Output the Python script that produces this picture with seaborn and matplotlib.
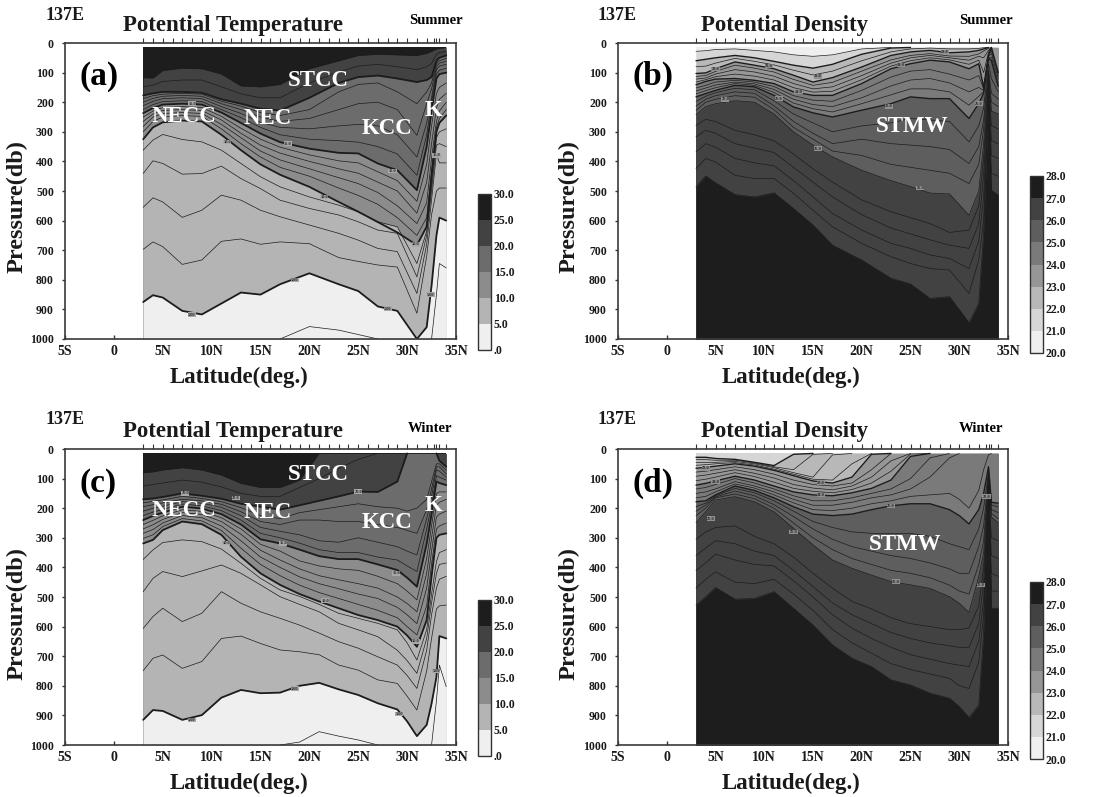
#!/usr/bin/env python
# -*- coding: utf-8 -*-
"""137E sections: potential temperature / potential density, summer and winter."""

import matplotlib
matplotlib.use("Agg")

import numpy as np
import seaborn as sns
import matplotlib.pyplot as plt
from matplotlib.colors import ListedColormap, BoundaryNorm
from matplotlib.colorbar import ColorbarBase

# ============== isolines: depth (db) of each level at each latitude ==============
LAT_S = [3, 4, 5, 7, 9, 11, 13, 15, 17, 20, 23, 25, 27, 29, 31, 32, 32.5, 33, 33.3, 34]
LAT_W = [3, 4, 5, 7, 9, 11, 13, 15, 17, 19, 21, 23, 25, 27, 29, 30, 31, 32, 32.5, 33, 33.3, 34]
STATIONS = [3, 4, 5, 6, 7, 8, 9, 10, 11, 12, 13, 14, 15, 16, 17, 18, 19, 20, 21, 22, 23, 24,
            25, 26, 27, 28, 29, 30, 31, 32, 32.7, 33, 33.3, 34]

# (a) summer temperature
A_LEVELS = [4, 5, 6, 7, 8, 9, 10, 11, 12, 13, 14, 15, 16, 17, 18, 19, 20, 22.5, 25]
A_DEPTH = [
    [1000, 1000, 1000, 1000, 1000, 1000, 1000, 1000, 1000, 958, 970, 985, 1000, 1000, 1000, 1000, 1000, 850, 745, 760],
    [875, 852, 860, 905, 917, 880, 843, 850, 815, 778, 815, 838, 890, 905, 1000, 960, 820, 650, 590, 600],
    [697, 672, 688, 748, 733, 670, 662, 680, 672, 678, 725, 738, 750, 757, 913, 720, 580, 500, 490, 490],
    [555, 523, 537, 589, 565, 514, 531, 565, 587, 615, 643, 666, 694, 705, 846, 680, 530, 375, 405, 405],
    [441, 398, 407, 443, 441, 416, 458, 492, 531, 559, 581, 604, 632, 643, 790, 650, 500, 345, 340, 350],
    [362, 328, 309, 326, 334, 362, 407, 452, 486, 520, 548, 570, 604, 621, 745, 635, 480, 320, 300, 290],
    [325, 285, 268, 262, 265, 310, 362, 410, 445, 486, 537, 570, 605, 640, 683, 620, 450, 300, 270, 245],
    [300, 265, 250, 245, 248, 290, 340, 385, 420, 450, 490, 515, 545, 590, 650, 590, 430, 285, 255, 225],
    [282, 250, 238, 235, 238, 275, 320, 365, 395, 425, 455, 475, 505, 550, 610, 540, 390, 265, 230, 200],
    [265, 240, 228, 225, 228, 260, 305, 345, 372, 400, 425, 440, 470, 500, 575, 470, 340, 220, 190, 170],
    [250, 230, 218, 215, 218, 248, 288, 325, 352, 378, 398, 405, 435, 465, 535, 410, 280, 170, 150, 135],
    [237, 220, 208, 205, 208, 235, 270, 306, 335, 357, 371, 373, 407, 430, 497, 350, 230, 120, 105, 100],
    [225, 208, 198, 195, 198, 225, 252, 285, 310, 325, 330, 335, 350, 375, 447, 310, 200, 105, 92, 85],
    [212, 197, 188, 185, 188, 215, 238, 268, 285, 290, 280, 275, 280, 310, 385, 270, 185, 90, 78, 72],
    [200, 187, 180, 177, 180, 205, 225, 250, 265, 255, 225, 205, 200, 225, 312, 205, 155, 80, 68, 62],
    [188, 178, 173, 170, 173, 197, 213, 235, 245, 225, 165, 140, 135, 165, 205, 165, 135, 70, 60, 52],
    [177, 170, 165, 165, 168, 190, 205, 222, 228, 185, 135, 115, 110, 120, 132, 125, 115, 60, 50, 42],
    [148, 142, 130, 125, 125, 148, 172, 185, 185, 135, 98, 78, 72, 80, 90, 80, 70, 38, 32, 28],
    [117, 118, 93, 85, 87, 105, 145, 148, 140, 87, 60, 42, 38, 40, 42, 35, 28, 20, 18, 15],
]

# (c) winter temperature
C_LEVELS = [4, 5, 6, 7, 8, 9, 10, 11, 12, 13, 14, 15, 16, 17, 18, 19, 20, 22.5, 25]
C_DEPTH = [
    [1000, 1000, 1000, 1000, 1000, 1000, 1000, 1000, 1000, 990, 955, 970, 983, 1000, 1000, 1000, 1000, 1000, 1000, 850, 730, 803],
    [915, 882, 885, 915, 899, 840, 814, 825, 823, 800, 790, 812, 831, 859, 880, 920, 970, 932, 860, 770, 632, 640],
    [749, 707, 696, 741, 718, 640, 632, 657, 679, 685, 695, 730, 747, 780, 792, 835, 882, 750, 640, 540, 530, 527],
    [606, 566, 538, 583, 555, 482, 521, 550, 572, 595, 622, 651, 673, 702, 730, 765, 809, 680, 560, 470, 440, 430],
    [482, 437, 414, 431, 412, 392, 420, 459, 499, 525, 550, 589, 611, 634, 680, 715, 758, 640, 520, 420, 390, 385],
    [373, 341, 316, 307, 313, 338, 386, 437, 476, 498, 525, 555, 572, 589, 611, 655, 713, 610, 490, 380, 350, 340],
    [319, 307, 274, 245, 254, 290, 364, 420, 459, 490, 515, 538, 561, 578, 600, 630, 668, 578, 430, 300, 290, 285],
    [302, 290, 262, 235, 243, 275, 335, 390, 428, 460, 485, 505, 525, 545, 570, 600, 628, 530, 390, 270, 260, 250],
    [285, 272, 250, 225, 232, 260, 310, 365, 400, 432, 455, 472, 490, 505, 535, 560, 590, 470, 345, 230, 220, 210],
    [270, 256, 238, 215, 221, 245, 288, 342, 375, 405, 428, 442, 455, 470, 500, 522, 550, 420, 300, 190, 180, 170],
    [255, 241, 226, 205, 211, 232, 270, 322, 345, 378, 395, 405, 410, 430, 455, 480, 510, 370, 260, 150, 145, 145],
    [240, 226, 215, 195, 201, 220, 255, 305, 319, 340, 362, 372, 372, 390, 409, 435, 465, 320, 220, 110, 115, 122],
    [225, 213, 204, 186, 192, 208, 240, 285, 300, 318, 340, 350, 350, 365, 375, 395, 414, 270, 190, 90, 95, 105],
    [210, 200, 193, 178, 183, 197, 225, 265, 278, 290, 310, 315, 300, 315, 330, 345, 358, 235, 160, 70, 75, 95],
    [195, 188, 182, 170, 175, 187, 212, 245, 255, 240, 240, 245, 245, 255, 265, 275, 285, 205, 135, 60, 60, 84],
    [182, 177, 172, 160, 167, 178, 198, 225, 235, 215, 205, 195, 185, 195, 200, 210, 200, 170, 110, 50, 50, 72],
    [170, 167, 162, 150, 158, 168, 185, 195, 205, 190, 175, 160, 144, 145, 110, 15, 15, 15, 15, 15, 40, 60],
    [125, 120, 115, 105, 112, 128, 150, 160, 160, 130, 100, 65, 35, 15, 15, 15, 15, 15, 15, 15, 15, 15],
    [80, 77, 71, 63, 71, 88, 116, 130, 130, 105, 15, 15, 15, 15, 15, 15, 15, 15, 15, 15, 15, 15],
]

# (b) summer density
B_LEVELS = [21, 22, 22.5, 23, 23.25, 23.5, 23.75, 24, 24.25, 24.5, 24.75, 25, 25.25, 25.5, 25.75, 26, 26.2, 26.4, 26.6, 26.8, 27]
B_DEPTH = [
    [28, 26, 22, 20, 25, 30, 40, 45, 40, 20, 15, 15, 15, 15, 15, 15, 15, 15, 15, 15],
    [60, 55, 50, 42, 50, 62, 75, 85, 72, 38, 17, 15, 15, 15, 15, 15, 15, 15, 15, 15],
    [80, 78, 68, 52, 62, 74, 92, 108, 95, 60, 30, 20, 17, 20, 20, 18, 16, 15, 15, 15],
    [103, 101, 87, 64, 75, 87, 109, 132, 117, 81, 42, 30, 25, 33, 30, 25, 20, 15, 15, 15],
    [113, 110, 96, 75, 85, 98, 123, 143, 133, 95, 57, 42, 36, 44, 45, 37, 27, 18, 15, 15],
    [122, 118, 105, 90, 98, 112, 137, 155, 148, 110, 68, 50, 42, 50, 58, 45, 50, 25, 15, 15],
    [132, 124, 114, 105, 112, 125, 151, 166, 163, 124, 78, 60, 50, 57, 72, 58, 100, 32, 15, 15],
    [141, 130, 122, 120, 126, 137, 165, 177, 177, 137, 87, 70, 58, 64, 87, 70, 150, 40, 15, 100],
    [152, 143, 132, 126, 132, 147, 178, 193, 197, 160, 115, 95, 90, 105, 125, 110, 155, 43, 25, 110],
    [162, 152, 142, 132, 138, 157, 190, 208, 215, 185, 145, 125, 120, 135, 165, 150, 160, 45, 35, 120],
    [172, 161, 151, 137, 143, 167, 203, 222, 233, 205, 175, 155, 155, 165, 210, 180, 165, 48, 48, 135],
    [182, 171, 160, 143, 148, 177, 216, 236, 250, 227, 205, 182, 188, 188, 255, 205, 170, 50, 60, 146],
    [197, 180, 168, 153, 158, 195, 240, 270, 300, 280, 270, 255, 260, 265, 334, 280, 220, 70, 120, 165],
    [213, 190, 178, 165, 170, 212, 265, 305, 340, 325, 340, 345, 350, 360, 407, 350, 260, 90, 170, 190],
    [228, 200, 190, 178, 183, 225, 285, 325, 365, 380, 410, 420, 430, 440, 475, 410, 290, 100, 200, 215],
    [242, 215, 205, 195, 200, 240, 300, 345, 385, 430, 465, 485, 507, 510, 582, 500, 340, 115, 230, 240],
    [278, 258, 265, 295, 310, 330, 375, 425, 470, 530, 570, 590, 610, 640, 632, 550, 390, 130, 280, 290],
    [317, 295, 305, 340, 355, 370, 420, 470, 520, 580, 625, 645, 665, 683, 694, 610, 450, 150, 330, 340],
    [368, 340, 352, 390, 405, 415, 465, 520, 576, 632, 677, 694, 716, 728, 762, 670, 520, 170, 380, 390],
    [424, 390, 402, 447, 458, 458, 508, 565, 621, 677, 722, 745, 762, 767, 846, 733, 600, 190, 440, 450],
    [486, 449, 472, 512, 520, 506, 559, 615, 683, 733, 795, 814, 863, 857, 945, 880, 643, 193, 497, 514],
]

# (d) winter density
D_LEVELS = [22, 22.25, 22.5, 22.75, 23, 23.25, 23.5, 23.75, 24, 24.25, 24.5, 24.75, 25, 25.25, 25.5, 25.75, 26, 26.2, 26.4, 26.6, 26.8, 27]
D_DEPTH = [
    [28, 28, 32, 35, 45, 56, 18, 15, 15, 15, 15, 15, 15, 15, 15, 15, 15, 15, 15, 15, 15, 15],
    [36, 36, 38, 38, 47, 60, 70, 18, 15, 15, 15, 15, 15, 15, 15, 15, 15, 15, 15, 15, 15, 15],
    [45, 45, 45, 42, 50, 63, 80, 95, 20, 15, 15, 15, 15, 15, 15, 15, 15, 15, 15, 15, 15, 15],
    [55, 53, 50, 46, 54, 68, 85, 102, 105, 50, 15, 15, 15, 15, 15, 15, 15, 15, 15, 15, 15, 15],
    [65, 62, 58, 50, 58, 72, 90, 108, 115, 95, 18, 15, 15, 15, 15, 15, 15, 15, 15, 15, 15, 15],
    [78, 75, 70, 60, 70, 85, 105, 120, 125, 115, 70, 15, 15, 15, 15, 15, 15, 15, 15, 15, 15, 15],
    [92, 88, 82, 70, 82, 98, 120, 132, 138, 125, 95, 40, 15, 15, 15, 15, 15, 15, 15, 15, 15, 15],
    [107, 102, 95, 80, 93, 112, 133, 143, 148, 137, 115, 75, 17, 15, 15, 15, 15, 15, 15, 15, 15, 15],
    [122, 116, 108, 92, 105, 125, 145, 155, 158, 148, 133, 105, 25, 15, 15, 15, 15, 15, 15, 15, 15, 15],
    [135, 130, 120, 100, 115, 135, 158, 175, 175, 165, 150, 135, 100, 30, 15, 15, 15, 15, 15, 15, 15, 15],
    [150, 145, 135, 110, 125, 145, 170, 190, 190, 180, 165, 155, 135, 95, 30, 15, 15, 15, 15, 15, 15, 15],
    [165, 160, 145, 118, 132, 155, 182, 205, 208, 200, 185, 175, 160, 155, 150, 170, 200, 140, 70, 20, 15, 15],
    [178, 175, 155, 125, 140, 165, 195, 220, 225, 220, 205, 192, 185, 185, 205, 225, 253, 205, 150, 60, 180, 183],
    [195, 183, 158, 133, 148, 175, 210, 245, 265, 280, 285, 285, 285, 295, 320, 330, 340, 270, 200, 80, 190, 195],
    [210, 190, 162, 142, 158, 188, 228, 270, 305, 330, 345, 360, 370, 385, 405, 420, 420, 330, 260, 90, 205, 215],
    [225, 200, 165, 152, 168, 200, 250, 300, 340, 370, 390, 410, 420, 435, 460, 480, 490, 390, 310, 100, 218, 235],
    [249, 212, 172, 161, 178, 212, 268, 324, 375, 403, 426, 448, 459, 471, 499, 521, 552, 431, 350, 110, 230, 250],
    [305, 280, 265, 260, 295, 320, 365, 420, 470, 515, 540, 570, 590, 600, 610, 610, 605, 530, 400, 130, 300, 310],
    [360, 335, 310, 320, 345, 360, 410, 465, 520, 560, 590, 620, 640, 655, 665, 670, 670, 590, 450, 150, 360, 370],
    [410, 385, 355, 375, 390, 395, 445, 500, 560, 605, 640, 670, 695, 710, 725, 730, 735, 650, 510, 170, 420, 430],
    [470, 440, 415, 450, 455, 440, 490, 545, 610, 655, 690, 725, 745, 760, 775, 800, 809, 720, 560, 190, 480, 480],
    [527, 499, 468, 507, 505, 482, 538, 595, 662, 707, 735, 780, 797, 825, 842, 870, 907, 865, 623, 60, 538, 538],
]

T_BOUNDS = [0, 5, 10, 15, 20, 25, 30]
T_COLORS = ["#efefef", "#b4b4b4", "#8c8c8c", "#6c6c6c", "#424242", "#1d1d1d"]
T_LABELS = [".0", "5.0", "10.0", "15.0", "20.0", "25.0", "30.0"]
D_BOUNDS = [20, 21, 22, 23, 24, 25, 26, 27, 28]
D_COLORS = ["#efefef", "#d6d6d6", "#b8b8b8", "#969696", "#7a7a7a", "#5e5e5e", "#424242", "#1d1d1d"]
D_LABELS = ["20.0", "21.0", "22.0", "23.0", "24.0", "25.0", "26.0", "27.0", "28.0"]

W, H = 1104, 797
SERIF = ["Liberation Serif", "DejaVu Serif"]

sns.set_theme(style="ticks")
plt.rcParams["font.family"] = SERIF
plt.rcParams["font.weight"] = "bold"

fig = plt.figure(figsize=(W / 100, H / 100), dpi=100, facecolor="white")


def axes_px(x0, y0, x1, y1):
    return fig.add_axes([x0 / W, 1 - y1 / H, (x1 - x0) / W, (y1 - y0) / H])


def label_px(x, y, s, size, color="#1a1a1a", rotation=0):
    fig.text(x / W, 1 - y / H, s, fontsize=size, color=color, rotation=rotation,
             ha="center", va="center", fontweight="bold")


def section(ax, lat, levels, depth, bounds, colors, thick, ascending, thick_lw):
    lat = np.array(lat, dtype=float)
    depth = np.array(depth, dtype=float)
    order = range(len(levels)) if ascending else range(len(levels) - 1, -1, -1)

    # painter's order, shallow isoline first, each fill runs down to 1000 db
    if ascending:
        top_band = np.searchsorted(bounds, levels[0], side="left") - 1
    else:
        top_band = np.searchsorted(bounds, levels[-1], side="right") - 1
    ax.fill_between(lat, 15, 1000, color=colors[top_band], lw=0)
    for i in order:
        band = np.searchsorted(bounds, levels[i], side="right" if ascending else "left") - 1
        ax.fill_between(lat, depth[i], 1000, color=colors[band], lw=0)

    for i in order:
        z = depth[i]
        off = (z <= 15) | (z >= 1000)
        # keep a point if it or a neighbour is a real crossing
        keep = ~off | np.r_[~off[1:], False] | np.r_[False, ~off[:-1]]
        idx = np.flatnonzero(keep)
        if len(idx) == 0:
            continue
        for run in np.split(idx, np.flatnonzero(np.diff(idx) > 1) + 1):
            is_thick = levels[i] in thick
            sns.lineplot(x=lat[run], y=z[run], ax=ax, color="#1c1c1c",
                         linewidth=thick_lw if is_thick else 0.5,
                         estimator=None, sort=False, legend=False, errorbar=None)


def dress(ax):
    ax.set_xlim(-5, 35)
    ax.set_ylim(1000, 0)
    ax.set_xticks(range(-5, 36, 5))
    ax.set_xticklabels(["5S", "0", "5N", "10N", "15N", "20N", "25N", "30N", "35N"], fontsize=10, fontweight="bold", color="#1a1a1a")
    ax.set_yticks(range(0, 1001, 100))
    ax.set_yticklabels([str(v) for v in range(0, 1001, 100)], fontsize=8.5, fontweight="bold", color="#1a1a1a")
    ax.tick_params(axis="x", direction="in", length=3, width=1, pad=4, color="#333333")
    ax.tick_params(axis="y", direction="out", length=2, width=1, pad=6, color="#333333")
    ax.set_xlabel("")
    ax.set_ylabel("")
    for name, spine in ax.spines.items():
        spine.set_visible(True)
        spine.set_linewidth(1.2)
        spine.set_color("#3a3a3a")
    top = ax.secondary_xaxis("top")
    top.set_xticks(STATIONS)
    top.set_xticklabels([])
    top.tick_params(axis="x", direction="out", length=3.5, width=0.8, color="#333333")
    top.spines["top"].set_visible(False)


def colorbar(box, bounds, colors, labels):
    cax = axes_px(*box)
    ColorbarBase(cax, cmap=ListedColormap(colors), norm=BoundaryNorm(bounds, len(colors)),
                 ticks=bounds, spacing="uniform", orientation="vertical")
    cax.set_yticklabels(labels, fontsize=8.5, fontweight="bold", color="#1a1a1a")
    cax.tick_params(length=0, pad=2)
    for spine in cax.spines.values():
        spine.set_linewidth(1.0)
        spine.set_color("#333333")


def contour_labels(ax, items, fc):
    for x, y, s in items:
        ax.text(x, y, s, fontsize=3.2, ha="center", va="center", color="#222222",
                bbox=dict(fc=fc, ec="none", pad=0.2))


# ---------- panels ----------
panels = [
    ((65, 43, 456, 339), LAT_S, A_LEVELS, A_DEPTH, T_BOUNDS, T_COLORS, {5, 10, 15, 20}, False, 1.3),
    ((618, 43, 1008, 339), LAT_S, B_LEVELS, B_DEPTH, D_BOUNDS, D_COLORS, {22, 23, 24, 25}, True, 1.0),
    ((65, 449, 456, 745), LAT_W, C_LEVELS, C_DEPTH, T_BOUNDS, T_COLORS, {5, 10, 15, 20}, False, 1.3),
    ((618, 449, 1008, 745), LAT_W, D_LEVELS, D_DEPTH, D_BOUNDS, D_COLORS, {22, 23, 24, 25}, True, 1.0),
]
axes = []
for box, lat, levels, depth, bounds, colors, thick, asc, thick_lw in panels:
    ax = axes_px(*box)
    section(ax, lat, levels, depth, bounds, colors, thick, asc, thick_lw)
    dress(ax)
    axes.append(ax)

contour_labels(axes[0], [(8, 205, "15.0"), (11.6, 334, "10.0"), (17.8, 340, "15.0"), (21.5, 520, "10.0"),
                         (28.5, 432, "15.0"), (30.9, 680, "10.0"), (8, 918, "5.00"), (18.5, 800, "5.00"),
                         (28, 897, "5.00"), (32.4, 850, "5.00"), (33, 380, "15.0")], "#a8a8a8")
contour_labels(axes[1], [(10.5, 78, "22.0"), (5, 88, "23.0"), (15.5, 113, "23.0"), (24, 75, "24.0"),
                         (13.5, 165, "24.0"), (11.5, 188, "25.0"), (22.8, 214, "25.0"), (6, 190, "26.0"),
                         (15.5, 357, "26.0"), (26, 490, "26.0"), (32, 205, "25.0"), (28.5, 30, "23.0")], "#909090")
contour_labels(axes[2], [(7.3, 150, "20.0"), (12.5, 165, "20.0"), (25, 144, "20.0"), (11.5, 318, "10.0"),
                         (17.3, 319, "15.0"), (21.6, 512, "10.0"), (28.9, 420, "15.0"), (30.9, 650, "10.0"),
                         (8, 915, "5.00"), (18.5, 810, "5.00"), (29.2, 895, "5.00"), (33, 750, "5.00")], "#a8a8a8")
contour_labels(axes[3], [(4, 65, "23.0"), (5, 110, "24.0"), (15.8, 114, "23.0"), (15.8, 155, "24.0"),
                         (23, 192, "25.0"), (13, 281, "26.0"), (23.5, 448, "26.0"), (32.8, 161, "25.0"),
                         (32.2, 460, "26.0"), (4.5, 235, "25.0")], "#909090")

colorbar((478, 194, 491, 350), T_BOUNDS, T_COLORS, T_LABELS)
colorbar((1030, 176, 1043, 353), D_BOUNDS, D_COLORS, D_LABELS)
colorbar((478, 600, 491, 756), T_BOUNDS, T_COLORS, T_LABELS)
colorbar((1030, 582, 1043, 759), D_BOUNDS, D_COLORS, D_LABELS)

# ---------- texts ----------
for x, y in [(65, 15), (617, 15), (65, 420), (617, 420)]:
    label_px(x, y, "137E", 13)
for x, y, s in [(233, 25, "Potential Temperature"), (785, 25, "Potential Density"),
                (233, 431, "Potential Temperature"), (785, 431, "Potential Density")]:
    label_px(x, y, s, 16.5)
for x, y, s in [(436, 21, "Summer"), (986, 21, "Summer"), (430, 428, "Winter"), (981, 428, "Winter")]:
    label_px(x, y, s, 10.5, color="black")
for x, y, s in [(99, 76, "(a)"), (653, 76, "(b)"), (98, 483, "(c)"), (653, 483, "(d)")]:
    label_px(x, y, s, 24, color="black")
for x, y in [(239, 377), (791, 377), (239, 783), (791, 783)]:
    label_px(x, y, "Latitude(deg.)", 16.5)
for x, y in [(17, 207), (569, 207), (17, 613), (569, 613)]:
    label_px(x, y, "Pressure(db)", 17.5, rotation=90)
for x, y, s in [(318, 81, "STCC"), (184, 117, "NECC"), (268, 118, "NEC"), (387, 128, "KCC"), (434, 111, "K"),
                (318, 475, "STCC"), (184, 511, "NECC"), (268, 513, "NEC"), (387, 523, "KCC"), (434, 505, "K"),
                (912, 127, "STMW"), (905, 545, "STMW")]:
    label_px(x, y, s, 16.5, color="white")

fig.savefig("out.png", dpi=100, facecolor="white")
